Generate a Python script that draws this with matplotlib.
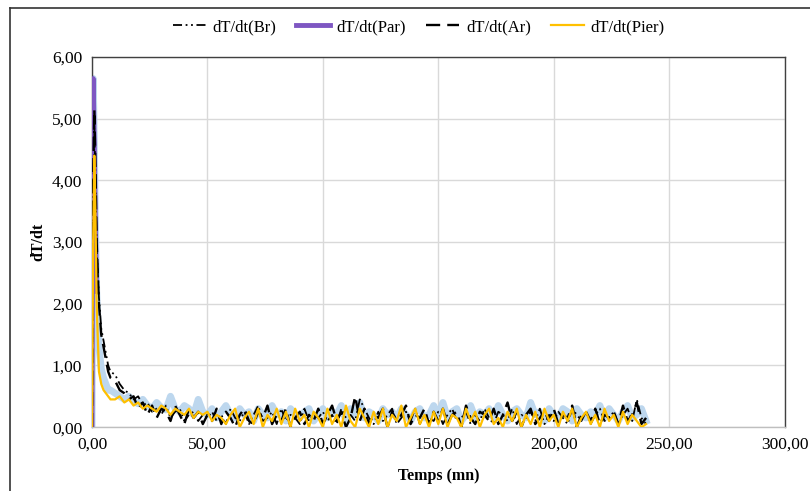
import numpy as np
import matplotlib
matplotlib.use('Agg')
import matplotlib.pyplot as plt
import matplotlib.ticker as ticker
from matplotlib.lines import Line2D

plt.rcParams['font.family'] = ['Liberation Serif', 'DejaVu Serif']

# time axis (mn): dense at the start, then every 2 mn
t_early = [0, 0.5, 1, 1.5, 2, 3, 4, 5, 6, 7, 8]
t_late = list(np.arange(10, 241, 2))
temps = t_early + t_late

par = [0, 5.65, 4.6, 3.2, 2.2, 1.3, 0.95, 0.8, 0.7, 0.6, 0.6,
       0.55, 0.5, 0.45, 0.5, 0.42, 0.38, 0.45, 0.35, 0.3, 0.4, 0.32, 0.28, 0.5, 0.3, 0.25, 0.35, 0.3, 0.2, 0.45, 0.25,
       0.2, 0.3, 0.15, 0.25, 0.35, 0.2, 0.15, 0.3, 0.2, 0.25, 0.1, 0.3, 0.2, 0.15, 0.35, 0.2, 0.25, 0.1, 0.3, 0.2, 0.15, 0.25, 0.3, 0.1, 0.2,
       0.3, 0.15, 0.25, 0.2, 0.35, 0.1, 0.3, 0.2, 0.4, 0.15, 0.25, 0.2, 0.1, 0.3, 0.2, 0.25, 0.15, 0.3, 0.2, 0.1, 0.25, 0.3, 0.15, 0.2, 0.35,
       0.2, 0.4, 0.15, 0.25, 0.3, 0.1, 0.2, 0.35, 0.15, 0.25, 0.2, 0.3, 0.15, 0.35, 0.2, 0.1, 0.25, 0.3, 0.2, 0.15, 0.4, 0.2, 0.25, 0.1, 0.3,
       0.2, 0.15, 0.3, 0.25, 0.1, 0.3, 0.2, 0.15, 0.25, 0.2, 0.35, 0.15, 0.3, 0.2, 0.1, 0.25, 0.35, 0.15, 0.2, 0.3, 0.1]

ar = [0, 4.0, 5.15, 4.2, 3.0, 2.0, 1.5, 1.3, 1.1, 0.9, 0.8,
      0.75, 0.6, 0.55, 0.45, 0.5, 0.3, 0.4, 0.2, 0.35, 0.15, 0.3, 0.25, 0.1, 0.35, 0.2, 0.05, 0.3, 0.15, 0.25, 0.05,
      0.2, 0.1, 0.3, 0.05, 0.25, 0.15, 0.0, 0.2, 0.3, 0.1, 0.05, 0.25, 0.15, 0.35, 0.05, 0.2, 0.1, 0.3, 0.0, 0.15, 0.25, 0.05, 0.2, 0.1, 0.3,
      0.05, 0.2, 0.35, 0.1, 0.25, 0.0, 0.15, 0.5, 0.1, 0.3, 0.05, 0.2, 0.15, 0.3, 0.0, 0.25, 0.1, 0.2, 0.35, 0.05, 0.2, 0.15, 0.3, 0.05, 0.25,
      0.1, 0.3, 0.05, 0.2, 0.25, 0.0, 0.35, 0.15, 0.05, 0.25, 0.2, 0.1, 0.3, 0.05, 0.2, 0.4, 0.1, 0.25, 0.0, 0.2, 0.3, 0.05, 0.15, 0.25, 0.1,
      0.3, 0.05, 0.2, 0.15, 0.35, 0.0, 0.2, 0.25, 0.1, 0.3, 0.05, 0.2, 0.15, 0.25, 0.05, 0.35, 0.1, 0.2, 0.4, 0.05, 0.15]

br = [0, 3.6, 4.9, 4.0, 2.9, 2.1, 1.6, 1.4, 1.2, 1.0, 0.9,
      0.85, 0.7, 0.6, 0.55, 0.45, 0.5, 0.35, 0.4, 0.25, 0.3, 0.2, 0.35, 0.15, 0.25, 0.3, 0.1, 0.2, 0.25, 0.1, 0.2,
      0.15, 0.25, 0.1, 0.2, 0.05, 0.3, 0.15, 0.1, 0.25, 0.05, 0.2, 0.35, 0.1, 0.15, 0.25, 0.05, 0.3, 0.1, 0.2, 0.15, 0.05, 0.3, 0.1, 0.2, 0.15,
      0.25, 0.1, 0.2, 0.05, 0.3, 0.15, 0.2, 0.1, 0.45, 0.3, 0.15, 0.05, 0.25, 0.1, 0.2, 0.3, 0.05, 0.15, 0.25, 0.1, 0.3, 0.05, 0.2, 0.15, 0.1,
      0.25, 0.05, 0.2, 0.3, 0.1, 0.15, 0.25, 0.05, 0.2, 0.1, 0.3, 0.15, 0.05, 0.25, 0.2, 0.1, 0.3, 0.05, 0.2, 0.15, 0.25, 0.1, 0.3, 0.05, 0.2,
      0.1, 0.25, 0.15, 0.05, 0.3, 0.2, 0.1, 0.25, 0.05, 0.2, 0.3, 0.1, 0.15, 0.25, 0.05, 0.2, 0.3, 0.1, 0.45, 0.15, 0.05]

pier = [0, 3.0, 4.4, 3.4, 2.0, 0.9, 0.7, 0.6, 0.55, 0.5, 0.45,
        0.45, 0.5, 0.4, 0.45, 0.35, 0.4, 0.3, 0.35, 0.3, 0.25, 0.35, 0.3, 0.2, 0.3, 0.25, 0.2, 0.3, 0.15, 0.25, 0.2,
        0.25, 0.1, 0.2, 0.15, 0.05, 0.2, 0.3, 0.0, 0.15, 0.25, 0.05, 0.3, 0.0, 0.2, 0.1, 0.3, 0.05, 0.25, 0.0, 0.3, 0.1, 0.2, 0.0, 0.25, 0.15,
        0.0, 0.3, 0.05, 0.2, 0.0, 0.35, 0.1, 0.0, 0.3, 0.15, 0.0, 0.25, 0.05, 0.3, 0.0, 0.2, 0.1, 0.35, 0.0, 0.15, 0.3, 0.05, 0.2, 0.0, 0.25,
        0.05, 0.3, 0.0, 0.2, 0.15, 0.0, 0.3, 0.1, 0.25, 0.0, 0.2, 0.3, 0.05, 0.15, 0.0, 0.25, 0.1, 0.3, 0.0, 0.2, 0.05, 0.25, 0.0, 0.3, 0.1,
        0.2, 0.0, 0.25, 0.1, 0.3, 0.0, 0.15, 0.25, 0.05, 0.2, 0.0, 0.3, 0.1, 0.2, 0.0, 0.25, 0.05, 0.2, 0.1, 0.0, 0.05]

fig = plt.figure(figsize=(8.1, 4.91), dpi=100)
ax = fig.add_axes([0.1136, 0.130, 0.855, 0.754])

# Par: light blue thick line, purple around the peak
ax.plot(temps, par, color='#bdd7ee', lw=5, solid_joinstyle='round', zorder=2)
ax.plot(temps[:5], par[:5], color='#7e57c2', lw=3.5, zorder=3)
ax.plot(temps, br, color='black', lw=1.3, dashes=(5, 2, 1, 2, 1, 2), zorder=4)
ax.plot(temps, ar, color='black', lw=1.7, dashes=(6, 3), zorder=5)
ax.plot(temps, pier, color='#ffc000', lw=1.6, zorder=6)

ax.set_xlim(0, 300)
ax.set_ylim(0, 6)
ax.set_xticks(np.arange(0, 301, 50))
ax.set_yticks(np.arange(0, 6.01, 1))
fmt = ticker.FuncFormatter(lambda v, p: f'{v:.2f}'.replace('.', ','))
ax.xaxis.set_major_formatter(fmt)
ax.yaxis.set_major_formatter(fmt)
ax.tick_params(length=0, labelsize=12.5, pad=7)
ax.grid(True, color='#d9d9d9', lw=1)
ax.set_axisbelow(True)
for s in ax.spines.values():
    s.set_color('#404040')
    s.set_linewidth(1)
ax.spines['bottom'].set_color('#bfbfbf')

ax.set_xlabel('Temps (mn)', fontweight='bold', fontsize=11.5, labelpad=11)
ax.set_ylabel('dT/dt', fontweight='bold', fontsize=11.5, labelpad=4)

handles = [
    Line2D([], [], color='black', lw=1.3, dashes=(5, 2, 1, 2, 1, 2)),
    Line2D([], [], color='#7e57c2', lw=3.5),
    Line2D([], [], color='black', lw=1.7, dashes=(6, 3)),
    Line2D([], [], color='#ffc000', lw=1.6),
]
labels = ['dT/dt(Br)', 'dT/dt(Par)', 'dT/dt(Ar)', 'dT/dt(Pier)']
fig.legend(handles, labels, loc='center', bbox_to_anchor=(0.517, 0.945), ncol=4,
           frameon=False, fontsize=12, handlelength=2.0, handletextpad=0.4, columnspacing=1.2)

# outer chart frame
fig.add_artist(Line2D([9.5 / 810, 9.5 / 810], [0, 1 - 7.5 / 491], color='#333333', lw=1.2))
fig.add_artist(Line2D([9.5 / 810, 1], [1 - 7.5 / 491, 1 - 7.5 / 491], color='#333333', lw=1.2))

plt.savefig('out.png', dpi=100)
plt.close()
